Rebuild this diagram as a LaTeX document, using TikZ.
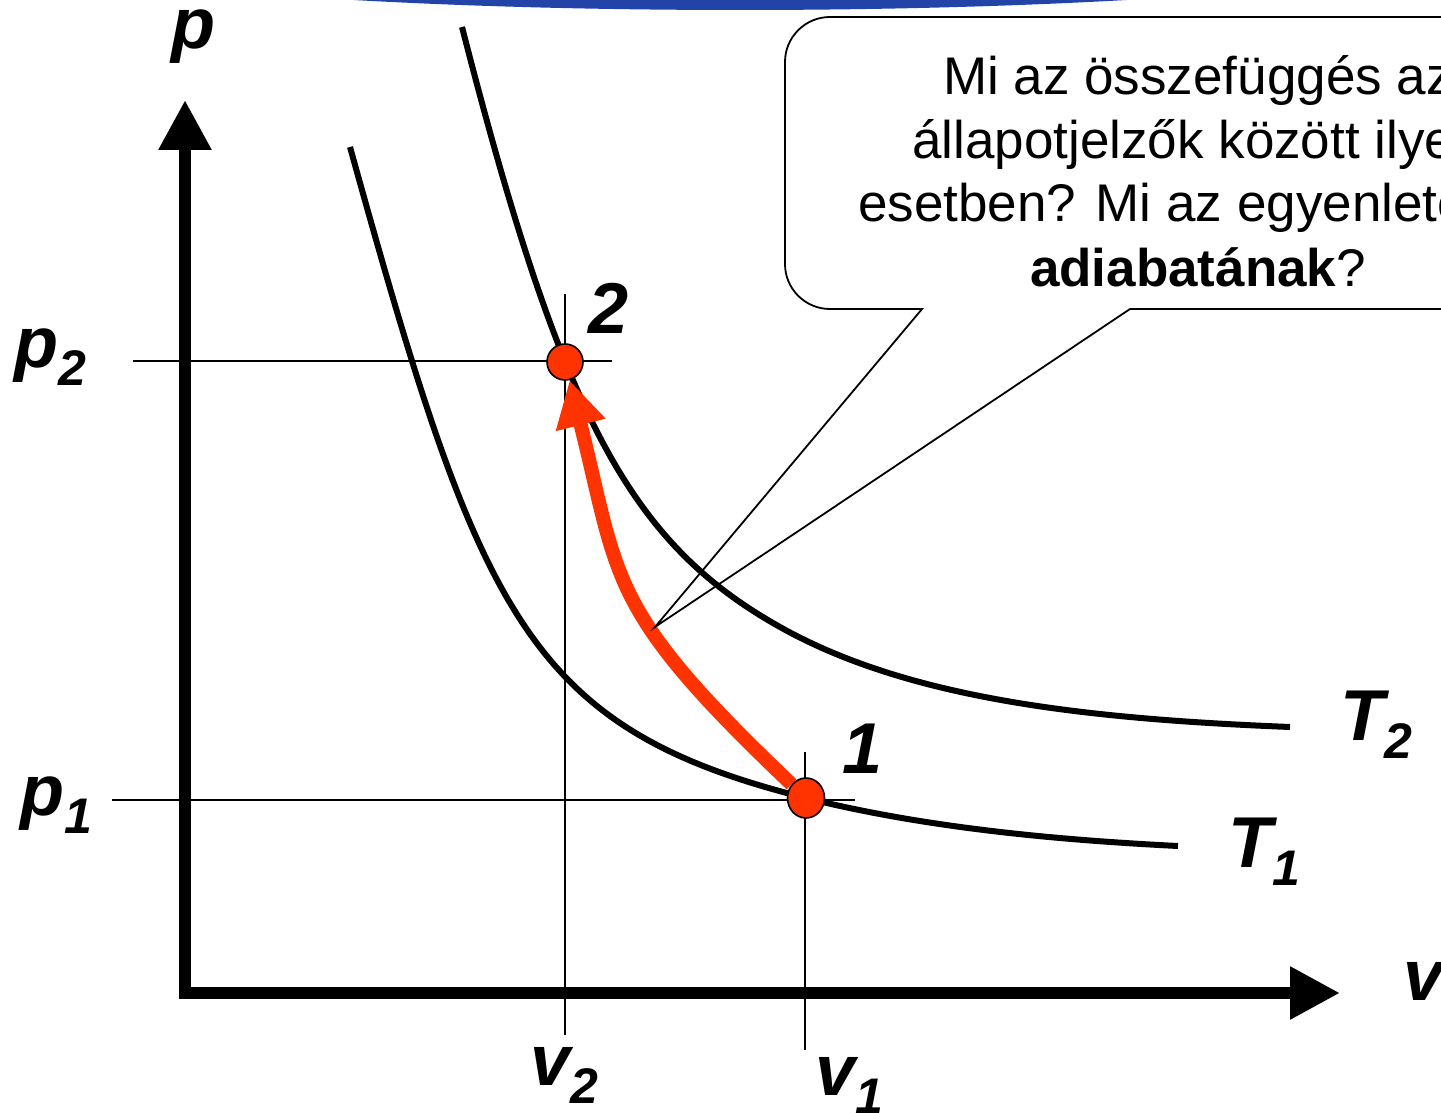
\documentclass[tikz,border=0pt]{standalone}
\usepackage{fontspec}
\setmainfont{Liberation Sans}
\usetikzlibrary{arrows.meta,shapes.geometric}
\definecolor{slideBlue}{RGB}{34,68,168}
\definecolor{stateRed}{RGB}{255,51,0}
\newcommand{\sublbl}[2]{#1\raisebox{-18pt}{\fontsize{50}{50}\selectfont #2}}

\begin{document}
\begin{tikzpicture}[x=1pt,y=-1pt,
    axisline/.style={line width=12pt,line join=miter,{Triangle[length=50pt,width=50pt]}-{Triangle[length=50pt,width=50pt]}},
    isotherm/.style={line width=6pt},
    guide/.style={line width=1.8pt},
    statept/.style={draw=black,line width=1.6pt,fill=stateRed,inner sep=0pt},
    adiabat/.style={stateRed,line width=14pt,-{Triangle[length=46pt,width=48pt]}},
    lbl/.style={font=\fontsize{72}{72}\selectfont\bfseries\itshape,inner sep=0pt,anchor=base west},
    qtext/.style={font=\fontsize{53}{64}\selectfont,inner sep=0pt,anchor=base}]
    \useasboundingbox (0,0) rectangle (1441,1113);
    \clip (0,0) rectangle (1441,1113);
    \fill[white] (0,0) rectangle (1441,1113);
    \fill[slideBlue] (740,-60) ellipse [x radius=750,y radius=70];

    % axes
    \draw[axisline] (185,100) -- (185,993) -- (1340,993);
    \node[lbl] (plbl) at (171,49) {p};
    \node[lbl] (vlbl) at (1403,1000) {v};

    % guide lines
    \draw[guide] (133,361) -- (612,361);
    \draw[guide] (112,800) -- (855,800);
    \draw[guide] (565,294) -- (565,1035);
    \draw[guide] (805,752) -- (805,1050);
    \node[lbl] (p2lbl) at (14,367) {\sublbl{p}{2}};
    \node[lbl] (p1lbl) at (20,815) {\sublbl{p}{1}};
    \node[lbl] (v2lbl) at (530,1085) {\sublbl{v}{2}};
    \node[lbl] (v1lbl) at (815,1095) {\sublbl{v}{1}};

    % isotherms
    \draw[isotherm] (350,147) .. controls (480,615) and (526,728) .. (806,798)
      .. controls (926,828) and (1058,840) .. (1178,846);
    \draw[isotherm] (462,27) .. controls (562,417) and (630,543) .. (780,627)
      .. controls (910,700) and (1090,719) .. (1290,727);
    \node[lbl] (t2lbl) at (1340,740) {\sublbl{T}{2}};
    \node[lbl] (t1lbl) at (1228,867) {\sublbl{T}{1}};

    % states and adiabat
    \node[statept,ellipse,minimum width=37pt,minimum height=40pt] (pt1) at (806,798) {};
    \node[statept,circle,minimum size=36pt] (pt2) at (565,362) {};
    \draw[adiabat] (pt1) .. controls (606,608) and (620,582) .. (pt2);
    \node[lbl] (n2lbl) at (588,333) {2};
    \node[lbl] (n1lbl) at (842,773) {1};

    % callout
    \coordinate (ctip) at (655,627);
    \draw[line width=1.8pt] (1520,17) -- (830,17) arc[start angle=270,end angle=180,radius=45]
      -- (785,264) arc[start angle=180,end angle=90,radius=45]
      -- (922,309) -- (ctip) -- (1130,309) -- (1520,309);
    \node[qtext] (qline1) at (1198,95) {Mi az összefüggés az};
    \node[qtext] (qline2) at (1198,159) {állapotjelzők között ilyen};
    \node[qtext] (qline3) at (1198,222) {esetben? Mi az egyenlete az};
    \node[qtext] (qline4) at (1198,286) {\textbf{adiabatának}?};
\end{tikzpicture}
\end{document}
